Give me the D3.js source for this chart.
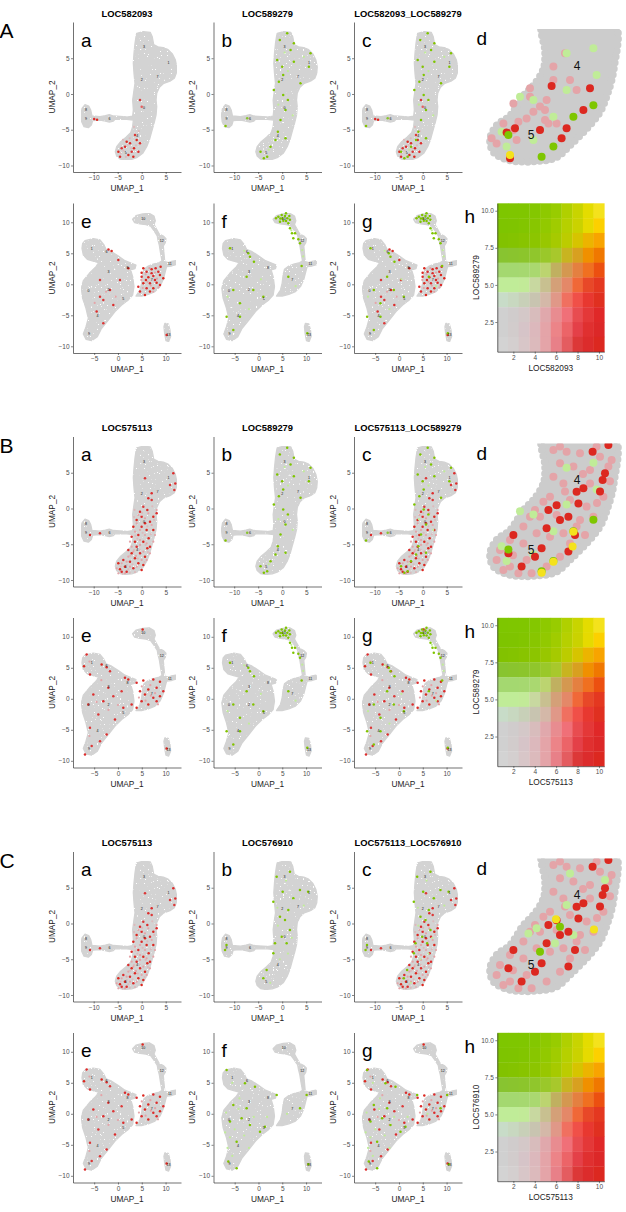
<!DOCTYPE html>
<html>
<head>
<meta charset="utf-8">
<script src="https://cdn.jsdelivr.net/npm/d3@7"></script>
<style>
  body { margin: 0; background: #fff; }
  svg text { font-family: "Liberation Sans", Arial, sans-serif; }
</style>
</head>
<body>
<svg id="fig" width="626" height="1212">
  <defs>
    <filter id="speckle" x="0" y="0" width="1" height="1">
      <feTurbulence type="fractalNoise" baseFrequency="0.7 0.45" numOctaves="2" seed="7" result="n"/>
      <feColorMatrix in="n" type="matrix" values="0 0 0 0 0  0 0 0 0 0  0 0 0 0 0  0 0 0 -20 15.4" result="m"/>
      <feComposite in="SourceGraphic" in2="m" operator="in"/>
    </filter>
  </defs>
</svg>
<script>
// ---------- data ----------
const figLetters = ["A", "B", "C"];
const figGenes = [["LOC582093", "LOC589279"], ["LOC575113", "LOC589279"], ["LOC575113", "LOC576910"]];
const embTicksX = [-10, -5, 0, 5], embTicksY = [-10, -5, 0, 5];
const larTicksX = [-5, 0, 5, 10], larTicksY = [-10, -5, 0, 5, 10];
const blendTicksX = [2, 4, 6, 8, 10], blendTicksY = [2.5, 5, 7.5, 10];

// blend legend, top row (y = 10) first, columns x = 1..10
const blendRows = [
  ["#7ec600","#7fc600","#80c600","#84c700","#8ec900","#98cc00","#b0d000","#c8d400","#e4dc00","#f4e21c"],
  ["#7ec400","#7fc400","#82c500","#88c600","#92c900","#a0cc00","#b6d000","#cad200","#e6da00","#fcd000"],
  ["#82c200","#84c300","#88c400","#8cc500","#98c700","#a6ca00","#bccc00","#d6c400","#ecb400","#f8a400"],
  ["#88c430","#8ac42e","#8cc52c","#90c62c","#9ac82a","#a8c82c","#c8b420","#d8a020","#f09000","#f07800"],
  ["#a4d870","#a4d870","#a6d870","#aad870","#bcd470","#c0b060","#d49850","#e48040","#f07020","#ec5010"],
  ["#c0ec98","#c0ec98","#c2ea98","#c8d8a0","#c8c090","#d4a078","#e48868","#f06838","#e84828","#e43820"],
  ["#c8dcc8","#c8d8c0","#c8d0b8","#c8c4b0","#d4b8a8","#e09888","#f07060","#f05048","#e83830","#e03020"],
  ["#d0d0d0","#d0cccc","#d4c8c8","#d8bcbc","#e0a8ac","#e88c90","#f07078","#e84c50","#e43838","#e02828"],
  ["#d0d0d0","#d2cccc","#d6c4c8","#dcb8bc","#e4a4a8","#ec8488","#ec6468","#e44048","#e03030","#dc2828"],
  ["#d3d3d3","#d4cfcf","#d8c6c8","#dcbabc","#e4a4a8","#e88088","#e45c60","#dc3838","#dc2c2c","#dc2820"]
];

// embryo UMAP outline
const embryoOutline = [
  [-1.04,8.49],[0.35,8.72],[1.8,8.6],[2.2,8.0],[2.5,6.9],[3.4,6.6],[4.5,6.5],[5.5,6.2],[6.4,5.6],[7.0,4.8],
  [7.3,3.8],[7.2,2.9],[6.8,2.2],[5.9,1.8],[4.6,1.5],[3.7,0.93],[3.13,0.09],[2.99,-0.84],[3.13,-1.77],[2.99,-2.94],
  [2.57,-4.10],[2.08,-5.27],[1.60,-6.43],[1.04,-7.37],[0.21,-8.30],[-0.90,-8.86],[-2.08,-9.14],[-3.47,-9.23],
  [-4.51,-9.09],[-5.21,-8.67],[-5.49,-8.07],[-5.21,-7.37],[-4.38,-6.67],[-3.26,-6.06],[-2.29,-5.41],[-1.88,-4.57],
  [-1.74,-3.64],[-3.13,-3.54],[-5.56,-3.54],[-5.9,-3.78],[-6.74,-3.92],[-7.57,-3.78],[-8.68,-3.64],[-10.21,-3.73],
  [-10.49,-4.34],[-11.11,-4.71],[-12.01,-4.57],[-12.5,-3.87],[-12.64,-2.94],[-12.43,-2.0],[-11.81,-1.49],
  [-11.04,-1.68],[-10.63,-2.24],[-10.35,-3.08],[-8.68,-3.17],[-7.57,-3.03],[-6.74,-2.9],[-5.9,-3.08],
  [-3.13,-3.22],[-1.88,-3.08],[-1.74,-2.24],[-1.88,-0.84],[-1.60,0.56],[-1.39,1.49],[-1.60,2.89],[-1.74,4.29],
  [-1.60,5.69],[-1.39,7.09],[-1.18,8.02]
];

// larva UMAP outlines
const larvaMain = [
  [-6.93,7.04],[-5.18,7.36],[-3.78,7.15],[-2.94,6.34],[-2.52,5.64],[-1.33,5.26],[0.07,4.56],[1.47,3.81],
  [2.87,3.38],[3.78,3.11],[3.57,2.52],[2.66,2.31],[3.08,1.23],[3.36,-0.38],[3.08,-1.72],[2.17,-2.52],
  [0.77,-3.33],[-0.63,-4.40],[-2.03,-5.76],[-3.43,-7.10],[-4.34,-8.45],[-5.53,-9.09],[-6.72,-8.87],
  [-7.28,-8.02],[-6.72,-6.83],[-6.23,-5.49],[-6.72,-3.87],[-7.42,-2.26],[-7.70,-0.65],[-7.28,0.59],
  [-6.02,1.77],[-4.62,2.84],[-4.06,3.49],[-5.04,3.70],[-6.44,4.03],[-7.28,4.73],[-7.56,5.80],[-7.42,6.61]
];
const larvaRight = [
  [3.78,-1.89],[4.62,-0.92],[4.97,0.16],[5.18,1.50],[5.46,2.41],[6.37,2.95],[7.42,3.27],[8.68,3.49],
  [9.38,3.81],[9.87,3.65],[10.57,3.49],[11.27,3.70],[12.11,3.81],[12.18,3.17],[11.27,2.95],[10.22,2.84],
  [9.94,2.04],[9.52,0.80],[8.82,-0.38],[7.77,-1.18],[6.37,-1.61],[4.97,-1.89]
];
const larvaTop = [
  [3.08,10.48],[3.78,11.07],[5.18,11.34],[6.58,11.44],[7.56,11.02],[7.84,10.26],[7.56,9.62],[8.12,8.87],
  [8.68,8.11],[9.52,7.79],[10.08,7.36],[9.94,6.71],[9.52,6.18],[9.66,4.99],[9.80,3.81],[9.24,3.81],
  [8.96,4.99],[8.68,6.34],[8.40,7.15],[8.26,7.79],[7.56,8.65],[6.86,9.40],[5.88,9.62],[4.62,9.73],[3.50,9.94]
];
const larvaIsland = [
  [9.87,-6.29],[10.57,-6.40],[10.92,-7.36],[11.06,-8.44],[10.64,-9.24],[10.08,-9.08],[9.80,-7.90],[9.66,-6.83]
];

// cluster labels
const embLabels = [[0.5,6.6,"3"],[5.6,4.3,"1"],[0,2.0,"2"],[3.3,2.4,"7"],[0.5,-1.9,"0"],[-11.6,-2.2,"8"],
  [-11.6,-3.4,"9"],[-6.7,-3.4,"6"],[-0.9,-5.8,"4"],[-3.3,-8.2,"5"]];
const larLabels = [[5.3,10.6,"10"],[9.2,7.0,"12"],[10.9,3.3,"11"],[-5.5,5.8,"1"],[-2.4,5.3,"6"],[-2.0,2.0,"3"],
  [2.0,2.6,"8"],[-6.2,-1.0,"0"],[-2.0,-0.9,"2"],[1.1,-2.3,"5"],[-4.3,-5.1,"4"],[-6.1,-8.0,"9"],
  [10.6,-8.2,"13"],[7.1,0.8,"7"]];
const zoomLabels = [[-0.7,-5.8,"4"],[-3.0,-8.2,"5"]];

// expressing cells [UMAP_1, UMAP_2, expression 1..10]
const emb582093 = [[-9.9,-3.5,9],[-9.3,-3.6,10],[-1.39,-5.73,8],[-1.04,-6.43,10],[-2.43,-6.9,9],[-1.6,-7.6,10],
  [-2.08,-8.07,8],[-3.47,-7.37,9],[-4.86,-8.07,10],[-4.51,-8.76,9],[-1.74,-8.76,10],[-0.69,-8.07,9],
  [-2.78,-8.53,10],[-4.17,-7.6,8],[-0.35,-6.9,9],[-3.13,-6.67,10],[-0.35,-0.84,8],[0,-1.77,7],
  [-3.9,-6.4,4],[-2.9,-7.1,4],[-4.4,-8.3,4],[-3.3,-8.8,4],[-1.2,-7.2,4],[-2.5,-6.2,4],[-0.6,-5.2,4],
  [-1.6,-4.6,4],[-3.8,-7.9,4],[-2.2,-7.6,4]];
const emb589279 = [[-0.49,7.55,9],[1.74,6.15,10],[5.9,5.69,8],[2.43,4.52,10],[0.21,2.66,9],[-0.69,1.72,10],
  [3.82,1.49,8],[-1.74,0.56,9],[0.21,-0.14,10],[1.18,-0.84,8],[0.69,-2.24,9],[-0.35,-3.64,10],[-0.9,-5.27,8],
  [-1.39,-6.43,9],[-4.51,-8.07,10],[-3.13,-8.76,10],[-3.82,-9.0,9],[-2.43,-7.37,8],[0.69,-6.2,9],
  [-11.8,-4.48,8],[-7.29,-3.4,7],[-1.04,4.76,9],[0,3.82,8],[5.56,3.82,9],[2.43,7.09,8],[1.04,8.49,9],
  [1.2,3.2,5],[-0.8,-1.5,5],[2.2,-3.0,5],[-2.8,-7.8,5],[4.5,5.2,5],[0.5,5.8,5]];
const emb575113 = [[0.69,-2.07,10],[1.73,-1.84,9],[-1.05,-1.61,10],[-0.01,-2.54,9],[2.42,-1.14,10],[3.12,-0.68,9],
  [1.03,-3.01,10],[-0.7,-3.71,9],[1.45,-4.17,10],[0.34,-4.64,10],[-1.05,-5.34,9],[1.17,-5.57,10],[-0.35,-6.27,9],
  [0.69,-6.74,10],[-1.4,-6.97,10],[-2.44,-7.44,9],[-0.7,-7.67,10],[-3.48,-8.14,10],[-1.74,-8.37,9],
  [-4.52,-8.51,10],[-3.13,-8.84,9],[-4.87,-7.67,10],[-3.83,-7.2,9],[-2.09,-6.27,10],[-2.79,-5.8,9],
  [-1.4,-4.64,10],[-2.09,-3.94,9],[-0.35,-0.44,9],[0.34,0.26,8],[1.38,1.42,9],[2.08,1.19,8],[2.08,2.12,9],
  [0.69,4.22,8],[6.59,4.92,9],[5.9,3.29,8],[7.0,3.5,9],[6.8,2.6,8],[-10.77,-3.71,9],[-8.7,-3.47,8],
  [1.17,-0.21,9],[-1.74,-2.54,10],[-0.01,-1.14,9],[2.42,-3.01,10],[1.73,-5.34,9],[0.34,-7.9,10],
  [-4.17,-8.84,9],[-0.01,-8.6,10],
  [-0.7,-0.91,5],[0.69,-1.38,5],[2.08,-2.31,5],[-0.35,-3.01,5],[-1.4,-3.24,5],[0.69,-3.71,5],[2.42,-4.64,5],
  [-0.35,-5.1,5],[-2.09,-5.34,5],[0.34,-6.04,5],[-1.19,-6.64,5],[-2.79,-6.74,5],[-4.17,-7.67,5],
  [-5.21,-8.37,5],[-2.44,-8.14,5],[-1.05,-8.14,5],[-3.48,-9.07,5],[1.03,-7.2,5],[1.73,-6.27,5],
  [2.77,-3.71,5],[-1.05,-2.08,5],[1.38,-0.68,5],[3.12,-0.21,5],[-0.35,-4.41,5],[1.03,-4.87,5],
  [-2.44,-4.64,5],[-1.74,-6.04,5],[-0.01,-7.2,5],[-4.87,-9.07,5],[-3.13,-7.44,5],
  [-1.5,-0.2,4],[0.1,-0.6,4],[2.2,0.3,4],[-1.6,-1.2,4],[1.2,-2.5,4],[2.6,-1.6,4],[-1.3,-3.8,4],[0.2,-3.4,4],
  [1.9,-3.6,4],[-0.9,-4.2,4],[0.8,-5.1,4],[-1.6,-5.8,4],[-0.4,-5.8,4],[1.3,-6.1,4],[-2.4,-6.6,4],
  [-0.8,-7.0,4],[0.6,-7.5,4],[-3.1,-7.9,4],[-1.9,-7.8,4],[-4.4,-8.1,4],[-2.8,-8.5,4],[-1.4,-8.9,4],
  [-4.0,-9.1,4],[-2.5,-9.0,4]];
const emb576910 = [[-1.15,6.55,9],[1.62,7.25,8],[0.1,4.45,9],[2.32,3.52,10],[3.7,4.69,8],[5.4,4.45,9],
  [1.27,1.89,10],[-0.46,0.96,8],[0.58,0.49,9],[1.62,-0.91,10],[-0.11,-1.84,9],[-1.5,-2.77,8],[0.93,-2.77,10],
  [-1.85,-4.17,9],[-3.24,-6.5,8],[-3.93,-7.67,9],[-11.9,-3.7,8],[-11.6,-3.0,9],[-1.85,3.05,9],
  [0.8,6.0,5],[-1.0,2.2,5],[2.0,-2.0,5],[-0.5,-5.0,5],[-2.5,-8.3,5],[1.2,-4.2,5],[4.5,2.5,5],[-0.9,-0.3,5]];

const lar582093 = [[5.32,2.58,10],[6.02,2.04,9],[7.07,2.41,10],[7.91,2.58,9],[8.96,2.84,10],[4.97,1.23,9],
  [6.37,1.12,10],[7.42,1.34,9],[8.82,1.5,10],[5.32,0.16,10],[6.72,0.16,9],[8.12,0.26,10],[6.02,-0.65,9],
  [7.42,-0.65,10],[4.62,-1.18,9],[5.67,-1.72,10],[8.82,-0.11,9],[9.52,0.96,10],[4.27,-0.38,9],[6.72,-1.18,10],
  [7.77,0.69,9],[5.88,0.69,10],[7.07,1.77,9],[4.97,1.88,10],[8.47,2.04,9],[-1.33,5.37,10],[0.07,3.91,9],
  [2.17,2.58,10],[-1.68,-0.91,9],[-3.08,-2.52,8],[-0.98,-3.33,9],[-3.78,-1.99,8],[-4.48,-4.4,9],[-3.08,-6.29,8],
  [10.22,-8.17,9],[0.42,0.69,8],[-3.78,0.69,8],[-2.0,5.6,9],
  [5.8,1.6,5],[6.6,2.6,5],[7.8,1.9,5],[5.2,-0.6,5],[6.9,-0.2,5],[8.2,0.9,5],[4.9,0.7,5],[7.4,-1.2,5],
  [6.2,0.4,5],[8.5,-0.5,5],[-2.5,-1.2,5],[-0.5,-2.0,5],[-4.9,-3.0,5]];
const lar589279 = [[4.17,10.9,10],[4.87,11.16,9],[5.57,11.0,10],[6.06,10.64,9],[5.22,10.26,10],[4.52,10.1,9],
  [6.27,9.83,10],[6.62,9.03,9],[7.04,8.22,10],[7.32,7.41,9],[8.37,7.25,8],[8.72,6.61,9],[7.67,8.22,8],
  [5.78,11.45,9],[3.68,10.64,8],[6.48,11.0,9],[5.0,10.6,10],[5.8,10.2,8],[4.6,10.6,9],[6.6,10.4,9],
  [-5.99,5.8,8],[-2.14,4.99,9],[-1.79,4.46,8],[-0.95,3.65,9],[-5.29,-0.91,8],[-3.89,-3.06,9],[-1.09,-0.91,8],
  [1.02,-1.99,9],[-6.69,-5.24,8],[-3.89,-5.24,9],[-5.29,-7.37,8],[9.07,2.95,8],[6.27,1.23,9],[10.26,-7.9,9],
  [-2.49,1.23,8],
  [4.4,10.3,5],[5.4,10.8,5],[6.9,8.7,5],[9.2,5.5,5],[9.4,4.5,5],[-3.0,5.4,5],[-6.5,-2.0,5],[-2.0,-4.0,5],
  [0.5,0.8,5],[7.8,-0.3,5]];
const lar575113 = [[-6.58,7.14,9],[-7.14,5.26,10],[-5.88,3.92,9],[-3.43,5.53,10],[-2.38,5.1,9],[-1.68,4.46,8],
  [5.18,11.18,10],[1.47,3.38,9],[2.17,3.11,10],[3.92,2.58,9],[5.32,2.95,10],[7.42,3.11,9],[8.82,2.74,10],
  [4.62,1.23,9],[6.37,1.5,10],[8.12,1.77,9],[5.67,0.69,10],[7.42,0.16,9],[8.82,0.43,10],[4.97,-0.38,9],
  [6.37,-0.91,10],[8.12,-0.38,9],[3.92,-1.45,10],[9.52,1.23,9],[-5.18,0.69,9],[-6.23,-0.91,8],[-3.08,-0.38,9],
  [-0.98,0.43,8],[1.12,-1.45,9],[-4.13,-2.53,8],[-0.63,-3.33,9],[-5.88,-4.68,8],[-2.38,-5.75,9],[-3.78,-6.83,8],
  [-6.93,-8.97,9],[-5.53,-7.63,8],[10.22,-8.0,10],[0.77,1.23,8],[2.87,-0.91,9],[-2.03,1.77,8],
  [5.0,2.0,5],[6.8,2.2,5],[7.8,0.9,5],[5.8,-0.3,5],[6.9,0.5,5],[4.4,0.2,5],[8.4,-0.9,5],[-4.5,-0.5,5],
  [-2.0,-1.8,5],[-6.0,-6.0,5],[0.0,-1.0,5],[-3.5,3.0,5],[-6.0,6.0,5]];
const lar576910 = [[-6.69,7.07,8],[-2.84,4.91,9],[-0.74,4.38,8],[3.82,3.03,9],[10.12,3.03,8],[8.72,0.88,9],
  [-5.99,-1.26,10],[-3.54,-0.73,8],[-1.79,-1.81,9],[0.32,-2.88,10],[1.37,-2.07,8],[-4.59,-4.49,9],
  [-6.34,-7.71,8],[-4.59,-8.79,9],[10.47,-8.15,10],[-5.29,1.42,8],[-2.49,0.88,9],
  [-6.8,0.2,5],[-5.0,-2.5,5],[-3.0,-3.5,5],[-1.0,-0.5,5],[-6.5,-5.5,5],[-5.5,-6.8,5],[-4.0,2.5,5],
  [1.8,-0.5,5],[-7.0,-3.0,5],[-2.0,-5.5,5],[6.0,0.0,5],[-5.5,5.0,5],[-4.2,0.8,5],[-6.0,-3.8,5]];

// zoomed region (clusters 4 and 5)
const zoomRegion = [[-2.4,-4.3],[1.15,-4.3],[1.15,-5.9],[0.8,-6.84],[0.45,-7.41],[-0.22,-7.99],[-1.05,-8.56],
  [-1.72,-8.97],[-2.55,-9.1],[-4.05,-9.08],[-4.88,-8.79],[-5.05,-8.33],[-4.72,-7.87],[-4.05,-7.53],
  [-3.38,-6.84],[-2.88,-6.49],[-2.38,-5.92],[-2.3,-5.34]];
const zoom582093 = [[-1.3,-5.38,5],[-1.05,-6.3,5],[-1.88,-6.3,5],[-0.72,-6.65,5],[-2.22,-6.99,5],[-2.55,-7.22,5],
  [-2.3,-7.34,5],[-2.88,-7.4,5],[-3.22,-7.63,5],[-3.63,-7.74,5],[-3.88,-8.03,5],[-4.97,-8.31,5],[-4.72,-8.49,5],
  [-3.88,-7.11,5],[-3.05,-6.59,5],[-2.13,-7.8,5],[-1.72,-7.8,5],[-2.3,-7.68,5],[-3.72,-8.37,5],[-4.38,-7.8,5],
  [-3.05,-6.88,5],[-1.88,-5.84,5],
  [-1.97,-6.51,10],[-0.05,-6.59,10],[-0.38,-7.34,10],[-1.22,-7.97,10],[-1.47,-8.31,10],[-4.05,-9.0,10],
  [-4.22,-8.11,10],[-2.55,-8.03,10],[-3.8,-7.97,10]];
const zoom589279 = [[0.12,-5.21,5],[-1.22,-6.65,5],[-4.47,-8.09,5],[-2.88,-6.99,5],[-3.55,-6.88,5],[-1.88,-7.57,5],
  [-2.88,-8.37,5],[-4.22,-8.6,5],[0.28,-6.13,5],[-1.22,-5.38,5],
  [0.12,-7.17,10],[-0.88,-7.57,10],[-1.88,-8.6,10],[-2.47,-8.95,10],[-4.13,-8.2,10]];
const zoom575113 = [[0.08,-4.83,10],[0.87,-4.6,10],[0.7,-5.57,10],[0.58,-5.8,10],[0.45,-6.2,10],[-0.38,-6.09,10],
  [-0.72,-6.21,10],[-1.55,-7.18,10],[-1.13,-7.07,10],[-0.8,-7.7,10],[-2.13,-6.84,10],[-2.22,-7.47,10],
  [-2.47,-8.16,10],[-2.8,-8.45,10],[-3.88,-7.7,10],[-4.13,-8.33,10],[-3.47,-8.79,10],[-1.72,-6.67,10],
  [-1.13,-8.27,10],[-0.63,-6.61,10],
  [-1.88,-4.77,5],[-1.22,-4.83,5],[-0.55,-4.88,5],[0.45,-5.0,5],[1.03,-5.11,5],[-1.55,-5.23,5],[-0.88,-5.34,5],
  [-0.05,-5.46,5],[0.87,-5.34,5],[-1.88,-5.69,5],[-1.38,-5.92,5],[-0.05,-5.92,5],[0.62,-6.38,5],[-1.05,-6.49,5],
  [-2.38,-6.55,5],[-0.22,-6.72,5],[-2.55,-7.07,5],[-1.72,-7.01,5],[-0.55,-7.18,5],[0.12,-7.07,5],[-3.05,-7.07,5],
  [-2.05,-7.76,5],[-1.38,-7.64,5],[-2.72,-7.64,5],[-3.38,-7.41,5],[-4.05,-7.87,5],[-4.55,-8.22,5],[-4.72,-8.56,5],
  [-4.05,-8.79,5],[-3.22,-8.56,5],[-2.22,-8.79,5],[-1.55,-8.45,5],[-1.05,-7.99,5],[-3.38,-7.99,5],[-4.38,-8.91,5],
  [-3.63,-9.02,5],[-2.97,-9.02,5],[-0.72,-7.41,5],[-2.05,-6.38,5],[-2.8,-6.84,5],[-1.55,-4.65,5],[0.28,-4.65,5],
  [0.95,-5.85,5],[-0.4,-5.6,5],[-1.3,-6.2,5],[0.3,-6.6,5],[-0.3,-7.7,5],[-3.9,-8.4,5]];
const zoom576910 = [[-1.05,-5.06,5],[-2.72,-6.95,5],[-3.13,-7.13,5],[-0.88,-7.18,5],[-1.8,-7.47,5],[-1.22,-6.15,5],
  [0.7,-5.29,5],[-2.55,-7.76,10],[-1.55,-6.9,10]];
const zoomBoth = [[[-4.05,-8.89]], [[-0.88,-7.59],[-2.47,-9.0],[-1.88,-8.62],[-0.92,-8.1]], [[-1.75,-6.64],[0.15,-6.99]]];

// ---------- lookups built from the arrays above ----------
const embryoCells = { LOC582093: emb582093, LOC589279: emb589279, LOC575113: emb575113, LOC576910: emb576910 };
const larvaCells = { LOC582093: lar582093, LOC589279: lar589279, LOC575113: lar575113, LOC576910: lar576910 };
const zoomCells = { LOC582093: zoom582093, LOC589279: zoom589279, LOC575113: zoom575113, LOC576910: zoom576910 };

const GREY = "#d3d3d3";
const redOf = v => blendRows[9][v - 1];     // first gene: along the x of the legend
const greenOf = v => blendRows[10 - v][0];  // second gene: along the y of the legend
const bothColor = blendRows[0][9];

const figTop = [0, 414.5, 829.5];
const colLeft = [0, 140.5, 281];

const embX = d3.scaleLinear().domain([-14.31, 8.19]).range([73, 181]);
const embY = d3.scaleLinear().domain([-10.91, 10.07]).range([172, 22]);
const larX = d3.scaleLinear().domain([-9.45, 13.24]).range([73, 181]);
const larY = d3.scaleLinear().domain([-11.08, 13.11]).range([353, 203]);
const zX = d3.scaleLinear().domain([-3, 0]).range([531, 591]);
const zY = d3.scaleLinear().domain([-8.2, -5.2]).range([135, 48]);
const hX = d3.scaleLinear().domain([0.5, 10.5]).range([497.3, 604.3]);
const hY = d3.scaleLinear().domain([0.5, 10.5]).range([351.7, 203.3]);

const svg = d3.select("#fig");

function styleAxis(sel) {
  sel.attr("font-family", null).attr("font-size", null);
  sel.select(".domain").attr("stroke", "#333").attr("stroke-width", 0.7);
  sel.selectAll(".tick line").attr("stroke", "#333").attr("stroke-width", 0.6);
  sel.selectAll(".tick text").attr("fill", "#4d4d4d").style("font-size", "6.5px");
}

function axes(g, x, y, xTicks, yTicks, xFmt, xName, yName) {
  const y0 = y.range()[0], x0 = x.range()[0];
  g.append("g").attr("transform", `translate(0,${y0})`)
    .call(d3.axisBottom(x).tickValues(xTicks).tickSize(2).tickSizeOuter(0).tickPadding(1.5).tickFormat(xFmt))
    .call(styleAxis);
  g.append("g").attr("transform", `translate(${x0},0)`)
    .call(d3.axisLeft(y).tickValues(yTicks).tickSize(2).tickSizeOuter(0).tickPadding(1.5)
      .tickFormat(yName.startsWith("UMAP") ? d3.format("d") : d3.format(".1f")))
    .call(styleAxis);
  const xm = (x.range()[0] + x.range()[1]) / 2, ym = (y.range()[0] + y.range()[1]) / 2;
  g.append("text").attr("x", xm).attr("y", y0 + 19).attr("text-anchor", "middle")
    .style("font-size", "8.3px").attr("fill", "#222").text(xName);
  g.append("text").attr("transform", `translate(${x0 - 18.5},${ym}) rotate(-90)`)
    .attr("text-anchor", "middle").style("font-size", "8.3px").attr("fill", "#222").text(yName);
}

function umapPanel(g, x, y, shapes, labels, layers, xTicks, yTicks, letter, title) {
  const line = d3.line().x(d => x(d[0])).y(d => y(d[1])).curve(d3.curveLinearClosed);
  g.append("g").attr("filter", "url(#speckle)").selectAll("path").data(shapes).join("path")
    .attr("d", line).attr("fill", GREY).attr("stroke", GREY)
    .attr("stroke-width", 1.3).attr("stroke-linejoin", "round");
  layers.forEach(layer => {
    const pts = layer.cells.slice().sort((a, b) => a[2] - b[2]);
    g.append("g").selectAll("circle").data(pts).join("circle")
      .attr("cx", d => x(d[0])).attr("cy", d => y(d[1]))
      .attr("r", d => d[2] > 6 ? 1.25 : 1.1)
      .attr("fill", d => layer.color(d[2]));
  });
  g.append("g").selectAll("text").data(labels).join("text")
    .attr("x", d => x(d[0])).attr("y", d => y(d[1]) + 1.2)
    .attr("text-anchor", "middle").style("font-size", "3.6px").attr("fill", "#111").text(d => d[2]);
  axes(g, x, y, xTicks, yTicks, d3.format("d"), "UMAP_1", "UMAP_2");
  g.append("text").attr("x", 81).attr("y", y.range()[1] + 24.5)
    .style("font-size", "19px").attr("fill", "#000").text(letter);
  if (title) {
    g.append("text").attr("x", 127).attr("y", 16.5).attr("text-anchor", "middle")
      .style("font-size", "9.4px").style("font-weight", "bold").attr("fill", "#000").text(title);
  }
}

function zoomPanel(g, idx, redCells, greenCells, both) {
  const clipId = "zclip" + idx;
  g.append("clipPath").attr("id", clipId).append("rect")
    .attr("x", 484).attr("y", 29).attr("width", 138).attr("height", 145);
  const cg = g.append("g").attr("clip-path", `url(#${clipId})`);
  const line = d3.line().x(d => zX(d[0])).y(d => zY(d[1])).curve(d3.curveCatmullRomClosed);
  cg.append("path").attr("d", line(zoomRegion)).attr("fill", "#cccccc");
  cg.append("path").attr("d", line(zoomRegion)).attr("fill", "none").attr("stroke", "#cccccc")
    .attr("stroke-width", 7.5).attr("stroke-linecap", "round").attr("stroke-dasharray", "0 6");
  const dots = (data, color) => cg.append("g").selectAll("circle").data(data).join("circle")
    .attr("cx", d => zX(d[0])).attr("cy", d => zY(d[1])).attr("r", 4).attr("fill", color);
  dots(redCells.filter(d => d[2] < 7), d => redOf(d[2]));
  dots(greenCells.filter(d => d[2] < 7), d => greenOf(d[2]));
  dots(redCells.filter(d => d[2] >= 7), d => redOf(d[2]));
  dots(greenCells.filter(d => d[2] >= 7), d => greenOf(d[2]));
  dots(both, bothColor);
  cg.append("g").selectAll("text").data(zoomLabels).join("text")
    .attr("x", d => zX(d[0])).attr("y", d => zY(d[1]) + 4.3)
    .attr("text-anchor", "middle").style("font-size", "12px").attr("fill", "#111").text(d => d[2]);
  g.append("text").attr("x", 476.5).attr("y", 45).style("font-size", "19px").attr("fill", "#000").text("d");
}

function blendPanel(g, xName, yName) {
  const cells = [];
  blendRows.forEach((row, r) => row.forEach((c, i) => cells.push({ x: i + 1, y: 10 - r, c })));
  g.append("g").selectAll("rect").data(cells).join("rect")
    .attr("x", d => hX(d.x - 0.5)).attr("y", d => hY(d.y + 0.5))
    .attr("width", d => hX(d.x + 0.5) - hX(d.x - 0.5) + 0.3)
    .attr("height", d => hY(d.y - 0.5) - hY(d.y + 0.5) + 0.3)
    .attr("fill", d => d.c);
  axes(g, hX, hY, blendTicksX, blendTicksY, d3.format("d"), xName, yName);
  g.append("text").attr("x", 464.5).attr("y", 223.3).style("font-size", "19px").attr("fill", "#000").text("h");
}

figLetters.forEach((L, i) => {
  const fig = svg.append("g").attr("transform", `translate(0,${figTop[i]})`);
  const [g1, g2] = figGenes[i];
  fig.append("text").attr("x", -0.5).attr("y", 38).style("font-size", "21px").attr("fill", "#000").text(L);

  const embLayers = [
    [{ cells: embryoCells[g1], color: redOf }],
    [{ cells: embryoCells[g2], color: greenOf }],
    [{ cells: embryoCells[g1], color: redOf }, { cells: embryoCells[g2], color: greenOf }]
  ];
  const larLayers = [
    [{ cells: larvaCells[g1], color: redOf }],
    [{ cells: larvaCells[g2], color: greenOf }],
    [{ cells: larvaCells[g1], color: redOf }, { cells: larvaCells[g2], color: greenOf }]
  ];
  const titles = [g1, g2, g1 + "_" + g2];
  [0, 1, 2].forEach(j => {
    const pg = fig.append("g").attr("transform", `translate(${colLeft[j]},0)`);
    umapPanel(pg, embX, embY, [embryoOutline], embLabels, embLayers[j], embTicksX, embTicksY, "abc"[j], titles[j]);
    const lg = fig.append("g").attr("transform", `translate(${colLeft[j]},0)`);
    umapPanel(lg, larX, larY, [larvaMain, larvaRight, larvaTop, larvaIsland], larLabels, larLayers[j],
      larTicksX, larTicksY, "efg"[j], null);
  });
  zoomPanel(fig.append("g"), i, zoomCells[g1], zoomCells[g2], zoomBoth[i]);
  blendPanel(fig.append("g"), g1, g2);
});
</script>
</body>
</html>
